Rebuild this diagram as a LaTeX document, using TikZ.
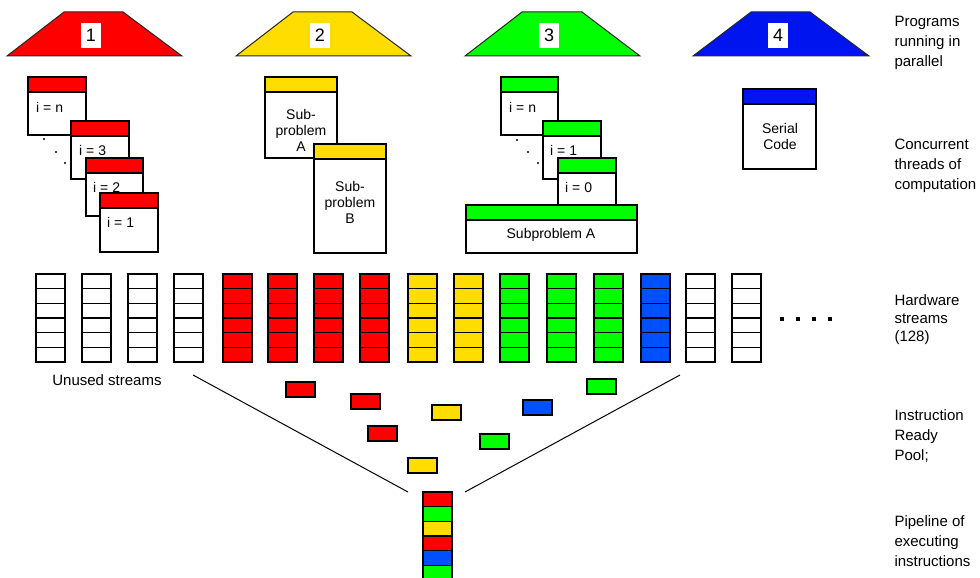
\documentclass[tikz,border=0pt]{standalone}
\usepackage{fontspec}
\setmainfont{Liberation Sans}
\definecolor{cred}{RGB}{255,0,0}
\definecolor{cyel}{RGB}{255,221,0}
\definecolor{cgrn}{RGB}{0,255,0}
\definecolor{cblu}{RGB}{0,20,240}
\definecolor{cblt}{RGB}{0,80,255}
\newcommand\thrbox[6]{%
  \draw[boxline, fill=white] (#2,#3) rectangle ++(#4,#5);
  \draw[boxline, fill=#6] (#2,#3) rectangle ++(#4,15);
  \coordinate (#1) at (#2,#3);
}
\begin{document}
\begin{tikzpicture}[x=1pt,y=-1pt,
  boxline/.style={draw=black, line width=1.3pt},
  trap/.style={draw=black!85, line width=1pt},
  numbox/.style={fill=white, minimum width=20pt, minimum height=25pt, inner sep=0pt, font=\fontsize{18}{20}\selectfont},
  lbl/.style={anchor=west, align=left, font=\fontsize{15}{20}\selectfont},
  itxt/.style={anchor=west, inner sep=0pt, font=\fontsize{14}{16}\selectfont},
  btxt/.style={align=center, inner sep=0pt, font=\fontsize{14}{16}\selectfont},
  cell/.style={draw=black, line width=1.3pt},
  tdot/.style={fill=black}
]
\useasboundingbox (0,0) rectangle (980,578);
% trapezoids
\draw[trap, fill=cred] (7,56) -- (64,12) -- (123,12) -- (182,56) -- cycle;
\draw[trap, fill=cyel] (236,56) -- (293,12) -- (352,12) -- (411,56) -- cycle;
\draw[trap, fill=cgrn] (465,56) -- (522,12) -- (582,12) -- (640,56) -- cycle;
\draw[trap, fill=cblu] (693,56) -- (751,12) -- (810,12) -- (869,56) -- cycle;
\node[numbox] (p1) at (91,35.5) {1};
\node[numbox] (p2) at (320,35.5) {2};
\node[numbox] (p3) at (549,35.5) {3};
\node[numbox] (p4) at (778,35.5) {4};
% program 1 threads
\thrbox{a1}{28}{77}{58}{58}{cred}
\node[itxt] (t1n) at (36,107) {i = n};
\thrbox{a2}{71}{121}{58}{58}{cred}
\node[itxt] (t13) at (79,150) {i = 3};
\thrbox{a3}{86}{158}{57}{58}{cred}
\node[itxt] (t12) at (93,187) {i = 2};
\thrbox{a4}{100}{193}{58}{59}{cred}
\node[itxt] (t11) at (107,222) {i = 1};
\fill[tdot] (44,139) circle (1.1);
\fill[tdot] (56,152) circle (1.1);
\fill[tdot] (65,163) circle (1.1);
% program 2
\thrbox{b1}{265}{77}{72}{81}{cyel}
\node[btxt] (tsa) at (301,130) {Sub-\\problem\\A};
\thrbox{b2}{314}{144}{72}{109}{cyel}
\node[btxt] (tsb) at (350,202) {Sub-\\problem\\B};
% program 3
\thrbox{c1}{501}{77}{57}{58}{cgrn}
\node[itxt] (t3n) at (509,107) {i = n};
\thrbox{c2}{543}{121}{58}{58}{cgrn}
\node[itxt] (t31) at (550,150) {i = 1};
\thrbox{c3}{558}{158}{58}{58}{cgrn}
\node[itxt] (t30) at (565,187) {i = 0};
\thrbox{c4}{466}{205}{171}{48}{cgrn}
\node[btxt] (tsp) at (551,235) {Subproblem A};
\fill[tdot] (517,140) circle (1.1);
\fill[tdot] (528,152) circle (1.1);
\fill[tdot] (538,163) circle (1.1);
% program 4
\thrbox{d1}{743}{89}{73}{80}{cblu}
\node[btxt] (tsc) at (780,136) {Serial\\Code};
% hardware streams
\foreach \x/\c in {36/white,82/white,128/white,174/white,223/cred,268/cred,314/cred,360/cred,408/cyel,454/cyel,500/cgrn,547/cgrn,594/cgrn,641/cblt,686/white,732/white}{
  \foreach \k in {0,...,5}{
    \draw[cell, fill=\c] (\x,{274+\k*14.67}) rectangle ++(29,14.67);
  }
}
\foreach \x in {782,798,814,830}{
  \fill (\x-1.6,317.4) rectangle ++(3.2,3.2);
}
\node[font=\fontsize{15}{18}\selectfont] (unused) at (107,380) {Unused streams};
% funnel
\coordinate (fl1) at (193,375);
\coordinate (fl2) at (408,492);
\coordinate (fr1) at (680,375);
\coordinate (fr2) at (465,492);
\draw[line width=1pt] (fl1) -- (fl2);
\draw[line width=1pt] (fr1) -- (fr2);
% pool
\foreach \x/\y/\c in {286/382/cred,351/394/cred,432/405/cyel,523/400/cblt,587/379/cgrn,368/426/cred,480/434/cgrn,408/458/cyel}{
  \draw[cell, fill=\c] (\x,\y) rectangle ++(29,15);
}
% pipeline
\foreach \k/\c in {0/cred,1/cgrn,2/cyel,3/cred,4/cblt,5/cgrn}{
  \draw[cell, fill=\c] (423,{492+\k*14.67}) rectangle ++(29,14.67);
}
% right labels
\node[lbl] (l1) at (891,43) {Programs\\running in\\parallel};
\node[lbl] (l2) at (891,166) {Concurrent\\threads of\\computation};
\node[lbl, font=\fontsize{15}{18}\selectfont] (l3) at (891,320) {Hardware\\streams\\(128)};
\node[lbl] (l4) at (891,436) {Instruction\\Ready\\Pool;};
\node[lbl] (l5) at (891,541) {Pipeline of\\executing\\instructions};
\end{tikzpicture}
\end{document}
